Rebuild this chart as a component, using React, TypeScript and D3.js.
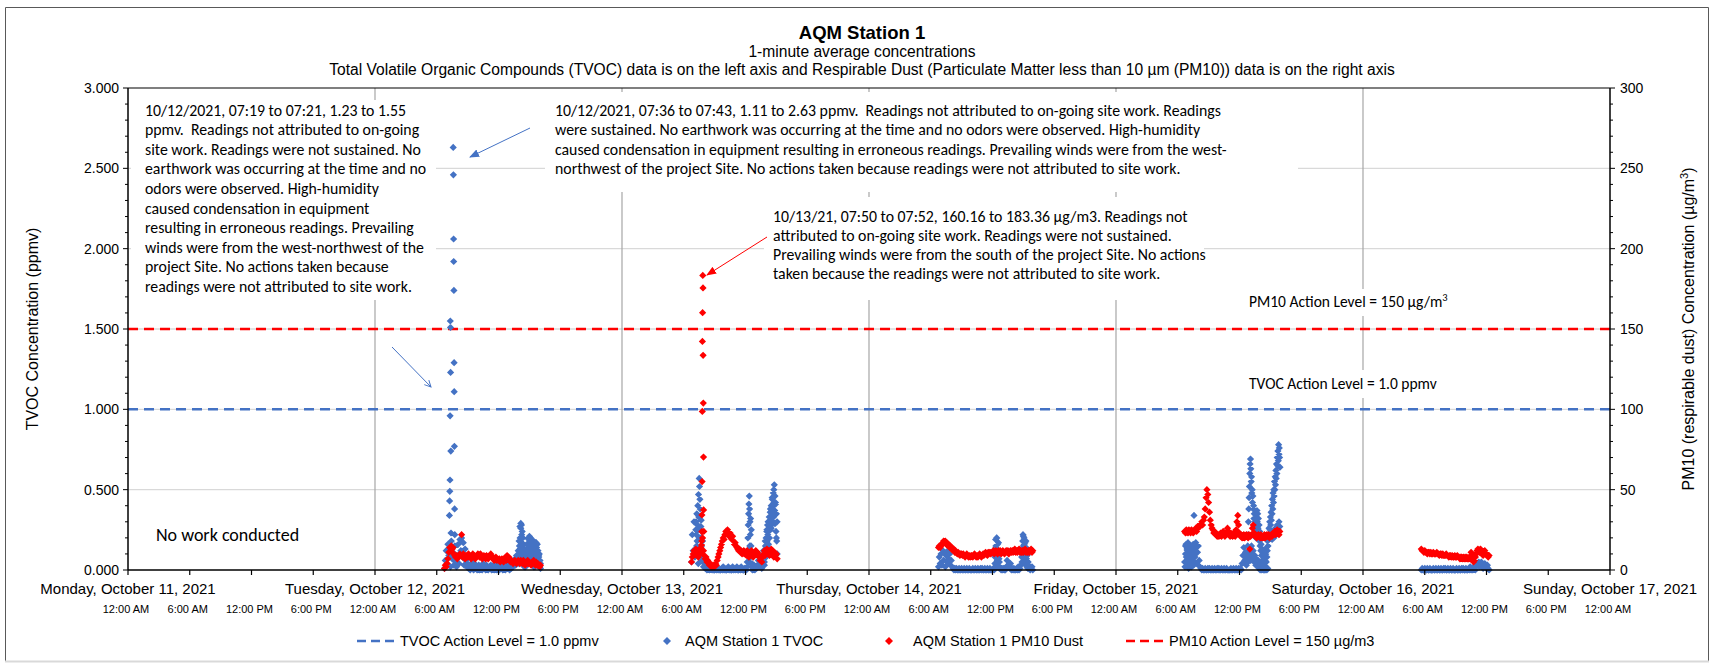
import React from "react";
import * as d3 from "d3";

// ---- chart data ----
const dayLabels = [
  "Monday, October 11, 2021",
  "Tuesday, October 12, 2021",
  "Wednesday, October 13, 2021",
  "Thursday, October 14, 2021",
  "Friday, October 15, 2021",
  "Saturday, October 16, 2021",
  "Sunday, October 17, 2021",
];
const hourLabels = ["12:00 AM", "6:00 AM", "12:00 PM", "6:00 PM"];
const tvocTicks = [0, 0.5, 1, 1.5, 2, 2.5, 3];
const pm10Ticks = [0, 50, 100, 150, 200, 250, 300];
const tvocActionLevel = 1.0;
const pm10ActionLevel = 150;

// TVOC (ppmv), 5-minute readings
const tvocOct12 = [
  0.01, 0.06, 0.12,
  0.04, 0.16, 0.09, 0.13, 0.02, 0.18, 0.07, 0.11, 0.03, 0.15, 0.05, 0.02,
  0.09, 0.16, 0.04, 0.19, 0.12, 0.2, 0.08, 0.17, 0.03, 0.13, 0.06, 0.02,
  0.04, 0.01, 0.02, 0, 0.03, 0.01, 0.05, 0, 0.02, 0.01, 0.03, 0,
  0.01, 0.03, 0, 0.02, 0.01, 0, 0.04, 0.01, 0.02, 0, 0.03, 0.01,
  0, 0.02, 0.01, 0.03, 0, 0.01, 0.02, 0, 0.04, 0.01, 0, 0.02,
  0.01, 0, 0.03, 0.01, 0.02, 0, 0.01, 0.03, 0, 0.02, 0.04, 0.01,
  0.02, 0, 0.03, 0.01, 0.05, 0.02, 0.04, 0.07, 0.03, 0.09, 0.05, 0.12,
  0.18, 0.27, 0.29, 0.22, 0.14, 0.06, 0.02, 0.1, 0.04, 0.16, 0.08, 0.2,
  0.21, 0.13, 0.05, 0.17, 0.09, 0.02, 0.14, 0.06, 0.17, 0.11, 0.03, 0.08,
  0.04, 0.01,
];
// 2-minute readings in the afternoon bumps
const tvocOct12HumpA = [
  0.06, 0.1, 0.04, 0.15, 0.08, 0.2, 0.12, 0.26, 0.17, 0.28, 0.09, 0.24,
  0.14, 0.2, 0.05, 0.16, 0.1, 0.12, 0.03, 0.08, 0.05, 0.02, 0.06,
];
const tvocOct12HumpB = [
  0.03, 0.09, 0.05, 0.13, 0.08, 0.16, 0.11, 0.19, 0.07, 0.21, 0.14, 0.18,
  0.04, 0.2, 0.1, 0.15, 0.06, 0.19, 0.12, 0.08, 0.13, 0.03, 0.1, 0.06,
  0.12, 0.02, 0.15, 0.09, 0.17, 0.05, 0.14, 0.11, 0.16, 0.07, 0.12, 0.03,
  0.09, 0.05, 0.1, 0.02, 0.06, 0.04,
];
// 1-minute readings around the morning excursion
const tvocOct12Spike: [string, number][] = [
  ["07:14", 0.34], ["07:15", 0.43], ["07:16", 0.49], ["07:17", 0.56],
  ["07:18", 0.96], ["07:19", 1.55], ["07:20", 1.51], ["07:21", 1.23],
  ["07:22", 0.74], ["07:23", 0.23], ["07:36", 2.63], ["07:37", 2.46],
  ["07:38", 2.06], ["07:39", 1.92], ["07:40", 1.74], ["07:41", 1.29],
  ["07:42", 1.11], ["07:43", 0.77], ["07:44", 0.38], ["07:45", 0.22],
];

const tvocOct13 = [
  0.05, 0.22, 0.12,
  0.3, 0.08, 0.25, 0.15, 0.28, 0.04, 0.2, 0.1, 0.27, 0.06, 0.18, 0.02,
  0.08, 0.01, 0.03, 0, 0.02, 0.01, 0, 0.02, 0.01, 0, 0.01, 0,
  0, 0.01, 0, 0.02, 0, 0.01, 0, 0, 0.01, 0, 0.02, 0,
  0.01, 0, 0, 0.01, 0.02, 0, 0.01, 0, 0, 0.02, 0, 0.01,
  0, 0.01, 0.02, 0, 0, 0.01, 0, 0.02, 0.01, 0, 0, 0.01,
  0.01, 0, 0.02, 0.1, 0.05, 0.15, 0.08, 0.02, 0, 0.01, 0.03, 0,
  0.02, 0.01, 0.03, 0.06, 0.02, 0.09, 0.04, 0.01, 0.05, 0.12, 0.03, 0.18,
  0.08, 0.25, 0.14, 0.3, 0.2, 0.38, 0.26, 0.45, 0.33, 0.5, 0.29, 0.42,
  0.2, 0.1,
];
const tvocOct13Morning = [
  0.12, 0.3, 0.22, 0.35, 0.18, 0.28, 0.4, 0.25, 0.47, 0.33, 0.57, 0.52,
  0.44, 0.38, 0.27, 0.2, 0.31, 0.15, 0.24, 0.1, 0.05,
];
const tvocOct13Noon = [
  0.05, 0.12, 0.2, 0.28, 0.35, 0.41, 0.46, 0.38, 0.3, 0.22, 0.32, 0.15,
  0.25, 0.1, 0.04,
];
const tvocOct13Afternoon = [
  0.05, 0.1, 0.08, 0.15, 0.12, 0.2, 0.1, 0.24, 0.18, 0.28, 0.22, 0.3,
  0.16, 0.26, 0.33, 0.2, 0.29, 0.36, 0.25, 0.31, 0.4, 0.28, 0.35, 0.44,
  0.3, 0.38, 0.48, 0.33, 0.42, 0.53, 0.37, 0.46, 0.29, 0.41, 0.24, 0.35,
  0.18, 0.3,
];

const tvocOct14 = [
  0.02, 0.08, 0.04,
  0.1, 0.03, 0.12, 0.06, 0.11, 0.02, 0.09, 0.05, 0.12, 0.07, 0.1, 0.03,
  0.06, 0.02, 0.01, 0, 0.01, 0, 0.01, 0, 0, 0.01, 0, 0,
  0.01, 0, 0, 0.01, 0, 0, 0.01, 0, 0, 0.01, 0, 0,
  0, 0.01, 0, 0, 0.01, 0, 0, 0.01, 0, 0, 0.01, 0,
  0.01, 0, 0, 0.01, 0, 0, 0.01, 0, 0, 0.01, 0, 0,
  0, 0.01, 0, 0.08, 0.15, 0.2, 0.12, 0.17, 0.05, 0.01, 0, 0.01,
  0, 0.01, 0, 0, 0.02, 0.06, 0.03, 0.05, 0.01, 0.04, 0, 0.01,
  0, 0.01, 0, 0, 0.01, 0, 0.02, 0, 0.01, 0.03, 0.08, 0.13,
  0.21, 0.16, 0.1, 0.18, 0.06, 0.12, 0.03, 0.01, 0, 0.01, 0.02, 0,
];
const tvocOct14Noon = [
  0.04, 0.1, 0.19, 0.14, 0.08, 0.2, 0.12, 0.06, 0.16, 0.03, 0.11, 0.02,
  0.07, 0.01,
];
const tvocOct14Afternoon = [
  0.05, 0.11, 0.18, 0.22, 0.15, 0.09, 0.2, 0.13, 0.06, 0.17, 0.1, 0.04,
  0.14, 0.07, 0.02, 0.09, 0.03, 0.01, 0.05,
];

const tvocOct15 = [
  0.05, 0.15, 0.08, 0.12,
  0.02, 0.16, 0.1, 0.06, 0.14, 0.03, 0.12, 0.34, 0.08, 0.17, 0.04, 0.11,
  0.15, 0.06, 0.02, 0.01, 0, 0.01, 0, 0, 0.01, 0, 0, 0.01,
  0, 0.01, 0, 0, 0.01, 0, 0, 0.01, 0, 0, 0.01, 0,
  0.01, 0, 0, 0.01, 0, 0, 0.01, 0, 0, 0.01, 0, 0,
  0, 0, 0.01, 0, 0, 0.01, 0, 0, 0.01, 0, 0, 0.01,
  0, 0.01, 0, 0.04, 0.09, 0.14, 0.06, 0.11, 0.03, 0.08, 0.05, 0.12,
  0.1, 0.06, 0.15, 0.08, 0.12, 0.05, 0.09, 0.03, 0.07, 0.02, 0.04, 0.01,
  0, 0.02, 0, 0.01, 0, 0.03, 0, 0.02, 0, 0.01, 0.22, 0.2,
  0.25, 0.21, 0.19, 0.23, 0.2, 0.24, 0.26, 0.22, 0.28, 0.25, 0.3, 0.27,
];
const tvocOct15Early = [
  0.02, 0.1, 0.16, 0.05, 0.13, 0.08, 0.17, 0.01, 0.11, 0.15, 0.04, 0.09,
  0.14, 0.02, 0.12, 0.07, 0.16, 0.03, 0.1, 0.13, 0.05,
];
const tvocOct15ColumnA = [
  0.08, 0.15, 0.22, 0.3, 0.38, 0.45, 0.52, 0.6, 0.66, 0.69, 0.63, 0.55,
  0.58, 0.48, 0.5, 0.42, 0.46, 0.38, 0.4, 0.32, 0.35, 0.28, 0.22, 0.3,
];
const tvocOct15ColumnB = [
  0.25, 0.2, 0.28, 0.33, 0.37, 0.3, 0.35, 0.26, 0.32, 0.22, 0.28, 0.18,
  0.24, 0.15, 0.2, 0.12, 0.16, 0.09, 0.13, 0.06, 0.1, 0.04, 0.08, 0.02,
  0.05, 0, 0.03, 0.01, 0.06, 0.02, 0.1, 0.05, 0.14, 0.08,
];
const tvocOct15ColumnC = [
  0.12, 0.18, 0.15, 0.22, 0.19, 0.26, 0.21, 0.3, 0.25, 0.33, 0.28, 0.36,
  0.31, 0.4, 0.35, 0.44, 0.38, 0.48, 0.42, 0.5, 0.46, 0.55, 0.5, 0.58,
  0.53, 0.62, 0.57, 0.66, 0.6, 0.7, 0.65, 0.74, 0.68, 0.78, 0.72, 0.76,
  0.7, 0.64,
];

const tvocOct16 = [
  0, 0.01, 0, 0,
  0.01, 0, 0, 0.01, 0, 0, 0.01, 0, 0, 0, 0.01, 0,
  0, 0.01, 0, 0, 0.01, 0, 0, 0.01, 0, 0, 0.01, 0,
  0.01, 0, 0, 0.01, 0, 0, 0.01, 0, 0, 0.01, 0, 0,
  0, 0.01, 0, 0, 0.01, 0, 0, 0.01, 0, 0.01, 0, 0,
  0.01, 0, 0, 0.01, 0, 0.02, 0, 0.01, 0, 0.02, 0.01, 0,
  0.02, 0.04, 0.03, 0.05, 0.02, 0.04, 0.05, 0.03, 0.01, 0.02, 0.04, 0.02,
  0.01, 0.03, 0.01, 0,
];

// PM10 (ug/m3), 5-minute readings
const pm10Oct12 = [
  1, 3, 2,
  4, 7, 11, 14, 12, 15, 13, 14, 10, 9, 8, 9,
  7, 9, 8, 10, 9, 22, 8, 10, 9, 7, 9, 8,
  8, 10, 9, 8, 7, 9, 10, 8, 9, 7, 8, 9,
  10, 9, 8, 10, 9, 7, 8, 9, 8, 7, 9, 8,
  7, 8, 9, 10, 9, 8, 7, 6, 7, 8, 6, 7,
  6, 7, 5, 6, 7, 6, 5, 7, 8, 6, 9, 7,
  8, 6, 5, 6, 5, 4, 5, 6, 5, 4, 5, 6,
  5, 4, 6, 5, 4, 6, 5, 3, 5, 4, 6, 4,
  5, 4, 3, 5, 4, 6, 4, 3, 5, 3, 4, 3,
  2, 3,
];
const pm10Oct13 = [
  5, 8, 10,
  12, 10, 13, 9, 11, 8, 12, 10, 14, 18, 20, 12,
  9, 7, 8, 5, 6, 4, 3, 4, 2, 3, 2, 3,
  2, 4, 3, 6, 8, 10, 12, 14, 16, 18, 20, 19,
  22, 24, 23, 25, 22, 21, 23, 20, 19, 21, 18, 16,
  17, 15, 14, 13, 12, 13, 11, 12, 10, 11, 12, 10,
  11, 9, 12, 10, 8, 11, 9, 12, 10, 8, 11, 9,
  12, 10, 11, 9, 8, 6, 7, 5, 8, 10, 12, 9,
  11, 13, 10, 12, 9, 11, 13, 10, 12, 8, 11, 9,
  10, 7,
];
// 1-minute readings around the morning excursion
const pm10Oct13Spike: [string, number][] = [
  ["07:44", 15.6], ["07:45", 23.9], ["07:46", 34.3], ["07:47", 55.0],
  ["07:48", 98.7], ["07:49", 142.3], ["07:50", 160.16], ["07:51", 183.36],
  ["07:52", 175.6], ["07:53", 133.6], ["07:54", 103.9], ["07:55", 70.3],
  ["07:56", 37.4], ["07:57", 24.0],
];
const pm10Oct14 = [
  14, 15, 14,
  15, 16, 17, 18, 17, 18, 16, 17, 15, 16, 14, 15,
  13, 14, 12, 13, 11, 12, 11, 10, 11, 10, 9, 10,
  10, 9, 10, 9, 8, 9, 10, 9, 8, 9, 8, 9,
  9, 8, 9, 10, 9, 8, 9, 8, 9, 10, 9, 8,
  9, 10, 9, 10, 11, 10, 9, 11, 10, 11, 10, 11,
  11, 12, 10, 11, 12, 11, 10, 12, 11, 12, 10, 11,
  12, 11, 10, 11, 12, 11, 12, 10, 11, 12, 11, 12,
  11, 12, 13, 11, 12, 11, 12, 13, 11, 12, 11, 12,
  11, 12, 13, 11, 12, 11, 12, 11, 12, 13, 11, 12,
];
const pm10Oct15 = [
  24, 23, 25, 24,
  23, 25, 24, 23, 25, 24, 23, 24, 25, 26, 24, 27,
  26, 28, 27, 29, 30, 28, 31, 33, 38, 45, 50, 47,
  42, 36, 31, 28, 26, 25, 23, 24, 22, 23, 21, 22,
  21, 22, 23, 21, 22, 24, 22, 21, 23, 22, 26, 24,
  22, 21, 23, 22, 21, 23, 22, 21, 25, 30, 34, 28,
  23, 21, 22, 20, 21, 22, 20, 21, 22, 21, 20, 22,
  13, 21, 22, 26, 28, 23, 21, 22, 20, 21, 22, 21,
  20, 22, 21, 20, 21, 22, 20, 21, 22, 21, 22, 20,
  21, 22, 21, 23, 22, 24, 22, 23, 25, 23, 22, 24,
];
const pm10Oct16 = [
  13, 12, 12, 11,
  12, 11, 11, 10, 11, 11, 10, 11, 10, 10, 11, 10,
  10, 10, 11, 10, 10, 9, 10, 10, 9, 10, 9, 9,
  9, 10, 9, 9, 8, 9, 9, 8, 9, 8, 8, 9,
  8, 8, 9, 8, 8, 7, 8, 8, 7, 8, 7, 8,
  7, 8, 7, 7, 8, 7, 11, 9, 6, 5, 6, 8,
  10, 12, 13, 12, 11, 13, 12, 10, 9, 11, 12, 10,
  9, 10, 8, 9,
];

type Run = { day: number; start: string; step: number; values: number[] };

const tvocRuns: Run[] = [
  { day: 12, start: "06:45", step: 5, values: tvocOct12 },
  { day: 12, start: "13:56", step: 2, values: tvocOct12HumpA },
  { day: 12, start: "14:42", step: 2, values: tvocOct12HumpB },
  { day: 13, start: "06:45", step: 5, values: tvocOct13 },
  { day: 13, start: "07:10", step: 2, values: tvocOct13Morning },
  { day: 13, start: "12:10", step: 2, values: tvocOct13Noon },
  { day: 13, start: "13:50", step: 2, values: tvocOct13Afternoon },
  { day: 14, start: "06:45", step: 5, values: tvocOct14 },
  { day: 14, start: "12:14", step: 2, values: tvocOct14Noon },
  { day: 14, start: "14:52", step: 2, values: tvocOct14Afternoon },
  { day: 15, start: "06:40", step: 5, values: tvocOct15 },
  { day: 15, start: "06:42", step: 3, values: tvocOct15Early },
  { day: 15, start: "12:46", step: 2, values: tvocOct15ColumnA },
  { day: 15, start: "13:34", step: 2, values: tvocOct15ColumnB },
  { day: 15, start: "14:42", step: 2, values: tvocOct15ColumnC },
  { day: 16, start: "05:40", step: 5, values: tvocOct16 },
];
const pm10Runs: Run[] = [
  { day: 12, start: "06:45", step: 5, values: pm10Oct12 },
  { day: 13, start: "06:45", step: 5, values: pm10Oct13 },
  { day: 14, start: "06:45", step: 5, values: pm10Oct14 },
  { day: 15, start: "06:40", step: 5, values: pm10Oct15 },
  { day: 16, start: "05:40", step: 5, values: pm10Oct16 },
];

// ---- annotation text ----
const noteTvocEarly = [
  "10/12/2021, 07:19 to 07:21, 1.23 to 1.55",
  "ppmv.  Readings not attributed to on-going",
  "site work. Readings were not sustained. No",
  "earthwork was occurring at the time and no",
  "odors were observed. High-humidity",
  "caused condensation in equipment",
  "resulting in erroneous readings. Prevailing",
  "winds were from the west-northwest of the",
  "project Site. No actions taken because",
  "readings were not attributed to site work.",
];
const noteTvocLate = [
  "10/12/2021, 07:36 to 07:43, 1.11 to 2.63 ppmv.  Readings not attributed to on-going site work. Readings",
  "were sustained. No earthwork was occurring at the time and no odors were observed. High-humidity",
  "caused condensation in equipment resulting in erroneous readings. Prevailing winds were from the west-",
  "northwest of the project Site. No actions taken because readings were not attributed to site work.",
];
const notePm10 = [
  "10/13/21, 07:50 to 07:52, 160.16 to 183.36 µg/m3. Readings not",
  "attributed to on-going site work. Readings were not sustained.",
  "Prevailing winds were from the south of the project Site. No actions",
  "taken because the readings were not attributed to site work.",
];

const BLUE = "#4472C4";
const RED = "#FF0000";
const AXIS_FONT = "Arial, 'Liberation Sans', sans-serif";
const NOTE_FONT = "Carlito, Calibri, Lato, sans-serif";

const at = (day: number, hm: string, addMin = 0) => {
  const [h, m] = hm.split(":").map(Number);
  return new Date(2021, 9, day, h, m + addMin);
};

const expand = (runs: Run[]) =>
  runs.flatMap((r) => r.values.map((v, i) => ({ t: at(r.day, r.start, i * r.step), v })));

export default function App() {
  const left = 128, right = 1610, top = 88, bottom = 570;

  const x = d3.scaleTime().domain([at(11, "00:00"), at(17, "00:00")]).range([left, right]);
  const yL = d3.scaleLinear().domain([0, 3]).range([bottom, top]);
  const yR = d3.scaleLinear().domain([0, 300]).range([bottom, top]);

  const tvocPts = [
    ...expand(tvocRuns),
    ...tvocOct12Spike.map(([hm, v]) => ({ t: at(12, hm), v })),
  ];
  const pm10Pts = [
    ...expand(pm10Runs),
    ...pm10Oct13Spike.map(([hm, v]) => ({ t: at(13, hm), v })),
  ];

  const r = 3.6;
  const diamonds = (pts: { t: Date; v: number }[], y: (v: number) => number) =>
    pts
      .map((p) => `M${x(p.t).toFixed(1)},${(y(p.v) - r).toFixed(1)}l${r},${r}l${-r},${r}l${-r},${-r}z`)
      .join("");

  const hourTicks = x.ticks(d3.timeHour.every(6) as any);
  const dayTicks = x.ticks(d3.timeDay.every(1) as any);
  const minorL = d3.range(0, 3.0001, 0.1);
  const minorR = d3.range(0, 300.01, 10);

  const noteLines = (lines: string[], x0: number, y0: number, lh: number) =>
    lines.map((s, i) => (
      <text key={i} x={x0} y={y0 + i * lh} style={{ whiteSpace: "pre" }}>
        {s}
      </text>
    ));

  return (
    <svg
      width={1711}
      height={663}
      style={{ position: "absolute", left: 0, top: 0, background: "#fff" }}
      fontFamily={AXIS_FONT}
    >
      <defs>
        <marker id="headBlue" viewBox="0 0 10 8" refX="9" refY="4" markerWidth="10" markerHeight="8"
          markerUnits="userSpaceOnUse" orient="auto">
          <path d="M0,0L10,4L0,8z" fill={BLUE} />
        </marker>
        <marker id="headRed" viewBox="0 0 10 8" refX="9" refY="4" markerWidth="10" markerHeight="8"
          markerUnits="userSpaceOnUse" orient="auto">
          <path d="M0,0L10,4L0,8z" fill={RED} />
        </marker>
        <marker id="headOpen" viewBox="0 0 10 10" refX="9" refY="5" markerWidth="8" markerHeight="8"
          markerUnits="userSpaceOnUse" orient="auto">
          <path d="M1,1L9,5L1,9" fill="none" stroke={BLUE} strokeWidth={1.2} />
        </marker>
      </defs>

      {/* chart frame */}
      <rect x={0} y={0} width={1711} height={663} fill="#fff" />
      <path d="M5.5,661V7.5H1708.5V661" fill="none" stroke="#595959" strokeWidth={1} />
      <line x1={5} x2={1709} y1={661.5} y2={661.5} stroke="#d9d9d9" strokeWidth={2} />

      {/* gridlines */}
      {tvocTicks.filter((v) => v > 0 && v < 3).map((v) => (
        <line key={v} x1={left} x2={right} y1={yL(v)} y2={yL(v)} stroke="#d9d9d9" strokeWidth={1.3} />
      ))}
      {dayTicks.slice(1, -1).map((d) => (
        <line key={+d} x1={x(d)} x2={x(d)} y1={top} y2={bottom} stroke="#a6a6a6" strokeWidth={1.2} />
      ))}

      {/* text box backgrounds */}
      <rect x={131} y={100} width={305} height={200} fill="#fff" />
      <rect x={545} y={92} width={753} height={100} fill="#fff" />
      <rect x={764} y={197} width={440} height={103} fill="#fff" />
      <rect x={1243} y={289} width={220} height={27} fill="#fff" />
      <rect x={1243} y={370} width={215} height={28} fill="#fff" />

      {/* action levels */}
      <line x1={left} x2={right} y1={yR(pm10ActionLevel)} y2={yR(pm10ActionLevel)} stroke={RED}
        strokeWidth={2.5} strokeDasharray="10,6" />
      <line x1={left} x2={right} y1={yL(tvocActionLevel)} y2={yL(tvocActionLevel)} stroke={BLUE}
        strokeWidth={2.5} strokeDasharray="10,6" />

      {/* readings */}
      <path d={diamonds(tvocPts, yL)} fill={BLUE} />
      <path d={diamonds(pm10Pts, yR)} fill={RED} />

      {/* axes */}
      <line x1={left} x2={right} y1={top} y2={top} stroke="#000" strokeWidth={1.2} />
      <line x1={left} x2={right} y1={bottom} y2={bottom} stroke="#000" strokeWidth={1.5} />
      <line x1={left} x2={left} y1={top} y2={bottom} stroke="#000" strokeWidth={1.5} />
      <line x1={right} x2={right} y1={top} y2={bottom} stroke="#000" strokeWidth={1.5} />
      {minorL.map((v, i) => (
        <line key={i} x1={left - (i % 5 === 0 ? 5 : 3)} x2={left} y1={yL(v)} y2={yL(v)} stroke="#000" />
      ))}
      {minorR.map((v, i) => (
        <line key={i} x1={right} x2={right + (i % 5 === 0 ? 5 : 3)} y1={yR(v)} y2={yR(v)} stroke="#000" />
      ))}
      {hourTicks.map((d) => (
        <line key={+d} x1={x(d)} x2={x(d)} y1={bottom} y2={bottom + 5} stroke="#000" strokeWidth={1.2} />
      ))}

      <g fontSize={14} fill="#000">
        {tvocTicks.map((v) => (
          <text key={v} x={left - 9} y={yL(v) + 5} textAnchor="end">{d3.format(".3f")(v)}</text>
        ))}
        {pm10Ticks.map((v) => (
          <text key={v} x={right + 10} y={yR(v) + 5}>{v}</text>
        ))}
      </g>
      <g fontSize={16} fill="#000">
        <text transform={`translate(38,${(top + bottom) / 2}) rotate(-90)`} textAnchor="middle">
          TVOC Concentration (ppmv)
        </text>
        <text transform={`translate(1694,${(top + bottom) / 2}) rotate(-90)`} textAnchor="middle">
          PM10 (respirable dust) Concentration (µg/m<tspan dy={-6} fontSize={11}>3</tspan>
          <tspan dy={6}>)</tspan>
        </text>
      </g>

      <g fontSize={15} textAnchor="middle">
        {dayTicks.map((d, i) => (
          <text key={+d} x={x(d)} y={594}>{dayLabels[i]}</text>
        ))}
      </g>
      <g fontSize={11} textAnchor="middle">
        {hourTicks.map((d, i) => (
          <text key={+d} x={x(d) - 2} y={613}>{hourLabels[i % 4]}</text>
        ))}
      </g>

      {/* titles */}
      <text x={862} y={39} textAnchor="middle" fontSize={18.5} fontWeight="bold">AQM Station 1</text>
      <text x={862} y={57} textAnchor="middle" fontSize={15.6}>1-minute average concentrations</text>
      <text x={862} y={75} textAnchor="middle" fontSize={15.6}>
        Total Volatile Organic Compounds (TVOC) data is on the left axis and Respirable Dust (Particulate Matter less than 10 µm (PM10)) data is on the right axis
      </text>

      {/* annotations */}
      <g fontFamily={NOTE_FONT} fontSize={15.8} fill="#000">
        {noteLines(noteTvocEarly, 145, 115.5, 19.6)}
        {noteLines(noteTvocLate, 555, 115.5, 19.6)}
        {noteLines(notePm10, 773, 221.5, 19.3)}
      </g>
      <g fontFamily={NOTE_FONT} fontSize={15.5} fill="#000">
        <text x={156} y={541} fontSize={18}>No work conducted</text>
        <text x={1249} y={307}>
          PM10 Action Level = 150 µg/m<tspan dy={-6} fontSize={10.5}>3</tspan>
        </text>
        <text x={1249} y={389}>TVOC Action Level = 1.0 ppmv</text>
      </g>
      <line x1={530} y1={128} x2={470} y2={157} stroke={BLUE} strokeWidth={1} markerEnd="url(#headBlue)" />
      <line x1={392} y1={347} x2={431} y2={387} stroke={BLUE} strokeWidth={1} markerEnd="url(#headOpen)" />
      <line x1={767} y1={237} x2={707} y2={275} stroke={RED} strokeWidth={1} markerEnd="url(#headRed)" />

      {/* legend */}
      <g fontSize={14.5}>
        <line x1={357} x2={397} y1={641} y2={641} stroke={BLUE} strokeWidth={2.5} strokeDasharray="9,5" />
        <text x={400} y={646}>TVOC Action Level = 1.0 ppmv</text>
        <path d={`M667,${641 - 4}l4,4l-4,4l-4,-4z`} fill={BLUE} />
        <text x={685} y={646}>AQM Station 1 TVOC</text>
        <path d={`M889,${641 - 4}l4,4l-4,4l-4,-4z`} fill={RED} />
        <text x={913} y={646}>AQM Station 1 PM10 Dust</text>
        <line x1={1126} x2={1168} y1={641} y2={641} stroke={RED} strokeWidth={2.5} strokeDasharray="9,5" />
        <text x={1169} y={646}>PM10 Action Level = 150 µg/m3</text>
      </g>
    </svg>
  );
}
